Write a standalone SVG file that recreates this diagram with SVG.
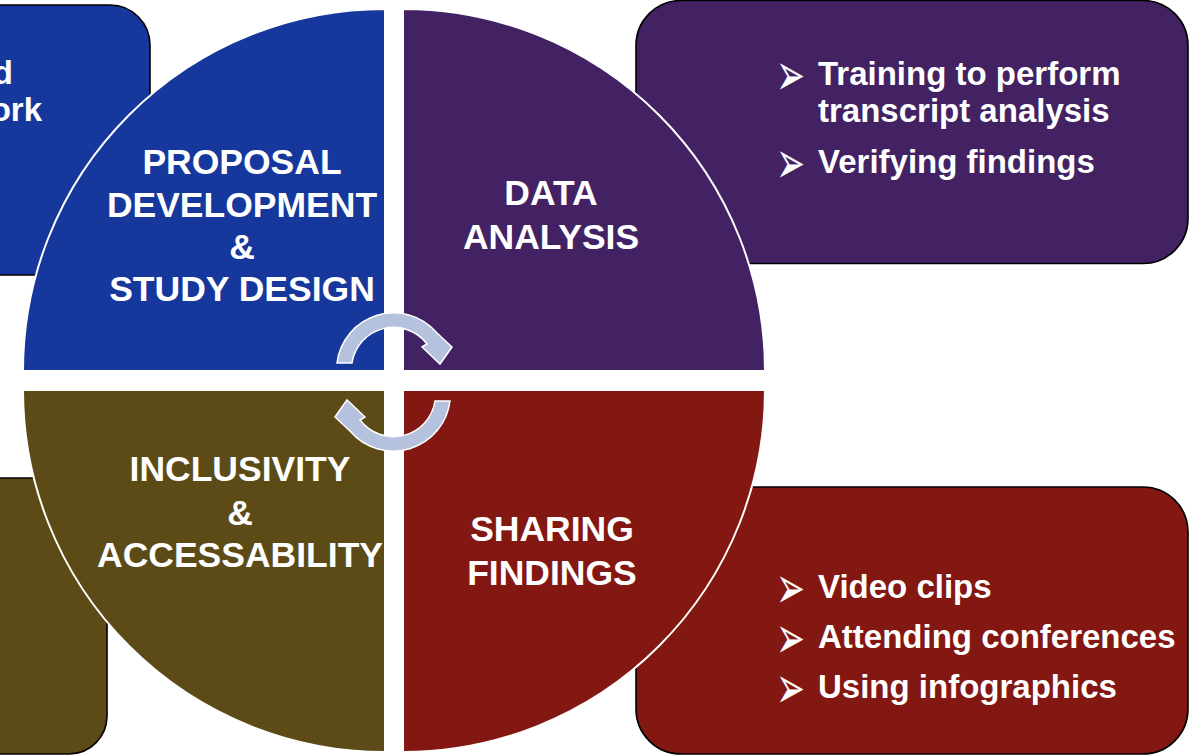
<svg xmlns="http://www.w3.org/2000/svg" width="1191" height="756" viewBox="0 0 1191 756">
<style>
.box{stroke:#000;stroke-width:1.6}
.q{stroke:#fff;stroke-width:2}
.lbl{font-family:"Liberation Sans",Arial,sans-serif;font-weight:bold;font-size:35.5px;fill:#fff;text-anchor:middle}
.bt{font-family:"Liberation Sans",Arial,sans-serif;font-weight:bold;font-size:33px;fill:#fff}
.bl{font-family:"DejaVu Sans",sans-serif;font-size:33px;fill:#fff}
.arr{fill:#b4c2de;stroke:#fff;stroke-width:1.5}
</style>
<rect width="1191" height="756" fill="#fff"/>
<g id="box-left-top">
<rect class="box" x="-60" y="5" width="210" height="270" rx="40" fill="#16379c"/>
<text class="bt" x="13" y="84" text-anchor="end">d</text>
<text class="bt" x="42" y="121" text-anchor="end">ork</text>
</g>
<g id="box-left-bottom">
<rect class="box" x="-60" y="478" width="167" height="276" rx="38" fill="#5c4b17"/>
</g>
<g id="box-data-analysis">
<rect class="box" x="636" y="0.5" width="552" height="263" rx="45" fill="#432263"/>
<text class="bl" transform="translate(776,94.5) scale(1.05,1.8)">➢</text>
<text class="bt" x="818" y="85">Training to perform</text>
<text class="bt" x="818" y="122">transcript analysis</text>
<text class="bl" transform="translate(776,182.5) scale(1.05,1.8)">➢</text>
<text class="bt" x="818" y="173">Verifying findings</text>
</g>
<g id="box-sharing-findings">
<rect class="box" x="636" y="487" width="552" height="267" rx="45" fill="#831812"/>
<text class="bl" transform="translate(776,607.5) scale(1.05,1.8)">➢</text>
<text class="bt" x="818" y="598">Video clips</text>
<text class="bl" transform="translate(776,657.5) scale(1.05,1.8)">➢</text>
<text class="bt" x="818" y="648">Attending conferences</text>
<text class="bl" transform="translate(776,707.5) scale(1.05,1.8)">➢</text>
<text class="bt" x="818" y="698">Using infographics</text>
</g>
<g id="q-proposal">
<path class="q" d="M385,371 L23,371 A362,362 0 0 1 385,9 Z" fill="#16379c"/>
<text class="lbl" x="242" y="174">PROPOSAL</text>
<text class="lbl" x="242" y="217">DEVELOPMENT</text>
<text class="lbl" x="242" y="259">&amp;</text>
<text class="lbl" x="242" y="301">STUDY DESIGN</text>
</g>
<g id="q-data">
<path class="q" d="M403,371 L403,9 A362,362 0 0 1 765,371 Z" fill="#432263"/>
<text class="lbl" x="551" y="205">DATA</text>
<text class="lbl" x="551" y="249">ANALYSIS</text>
</g>
<g id="q-sharing">
<path class="q" d="M403,390 L765,390 A362,362 0 0 1 403,752 Z" fill="#831812"/>
<text class="lbl" x="552" y="541">SHARING</text>
<text class="lbl" x="552" y="585">FINDINGS</text>
</g>
<g id="q-inclusivity">
<path class="q" d="M385,390 L385,752 A362,362 0 0 1 23,390 Z" fill="#5c4b17"/>
<text class="lbl" x="240" y="481">INCLUSIVITY</text>
<text class="lbl" x="240" y="525">&amp;</text>
<text class="lbl" x="240" y="567">ACCESSABILITY</text>
</g>
<g id="connectors">
<path id="arrow-top" class="arr" d="M337,363 A57,57 0 0 1 437,333 L452,347 L440,364 L422,347 L427,344 A42,42 0 0 0 352,363 Z"/>
<path id="arrow-bottom" class="arr" transform="rotate(180 393.5 382)" d="M337,363 A57,57 0 0 1 437,333 L452,347 L440,364 L422,347 L427,344 A42,42 0 0 0 352,363 Z"/>
</g>
</svg>
